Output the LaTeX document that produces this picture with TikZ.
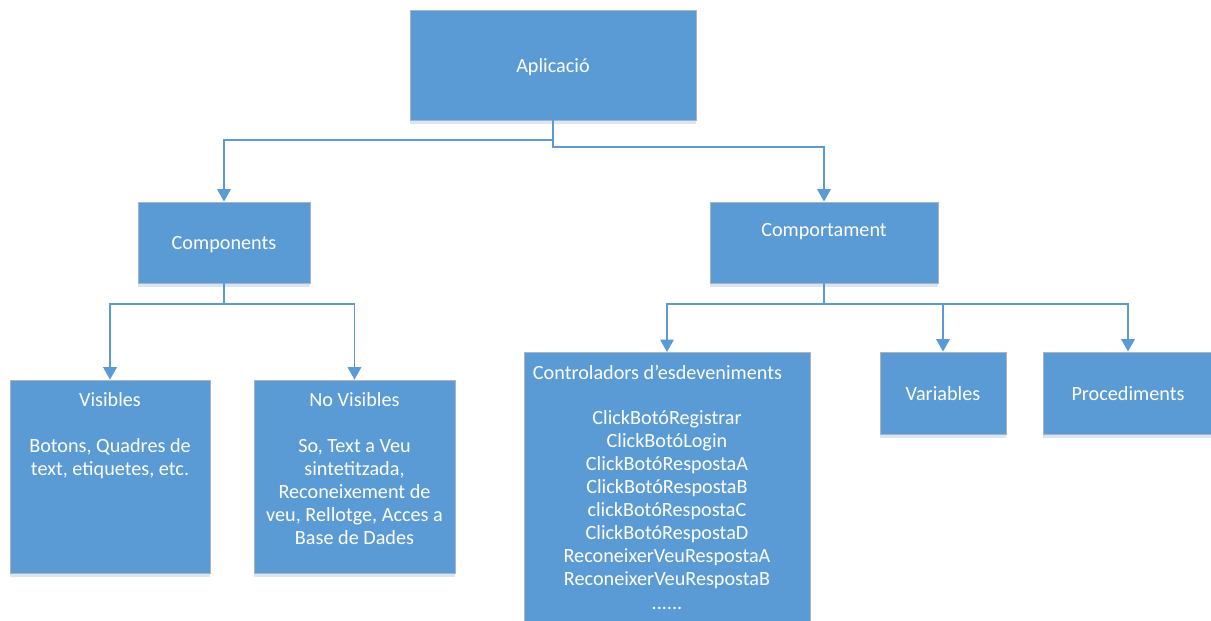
\documentclass[tikz,border=0pt]{standalone}
\usepackage{fontspec}
\setmainfont{Carlito}
\usepackage{tikz}
\usetikzlibrary{arrows.meta,
                positioning,
                shadows} % For the strip under each block
\definecolor{boxblue}{HTML}{5B9BD5}
\definecolor{edgegray}{HTML}{A9B5C2}
\definecolor{shadeblue}{HTML}{DAE6F3}

\begin{document}
\begin{tikzpicture}[x=0.02cm, y=-0.02cm]
    \tikzset
    {
        base/.style = {font = \fontsize{11.5pt}{13.1pt}\selectfont,
                       text = white,
                       inner sep = 0pt,
                       align = center},
        block/.style = {base,
                        rectangle,
                        text depth = 0pt,
                        draw = edgegray,
                        line width = 0.5pt,
                        fill = boxblue,
                        general shadow = {fill = shadeblue,
                                          shadow yshift = -0.8mm}},
        caption/.style = {base},
        link/.style = {draw = boxblue,
                       line width = 1.1pt,
                       -{Triangle[width = 2.7mm, length = 2.5mm]}}
    };
    \useasboundingbox (0,0) rectangle (1211,620);

    % Row #
    % 1
    \node[block, minimum width = 57.2mm, minimum height = 22mm] (app) at (553,65) {Aplicació};
    % 2
    \node[block, minimum width = 34.4mm, minimum height = 16.2mm] (components) at (224,242.5) {Components};
    \node[block, minimum width = 45.6mm, minimum height = 16.2mm] (comportament) at (824,242.5) {};
    \node[caption] (comportament text) at ([yshift=2.1mm] comportament.center) {Comportament};
    % 3
    \node[block, minimum width = 40mm, minimum height = 38.6mm] (visibles) at (110,476.5) {};
    \node[caption] (visibles text) [below=2.5mm of visibles.north]
        {Visibles\\[13.1pt]Botons, Quadres de\\text, etiquetes, etc.};
    \node[block, minimum width = 40.2mm, minimum height = 38.6mm] (no visibles) at (354.5,476.5) {};
    \node[caption] (no visibles text) [below=2.5mm of no visibles.north]
        {No Visibles\\[13.1pt]So, Text a Veu\\sintetitzada,\\Reconeixement de\\veu, Rellotge, Acces a\\Base de Dades};
    \node[block, minimum width = 57.2mm, minimum height = 55mm, anchor = north] (controladors) at (667,352) {};
    \node[caption] (controladors title) [below right=2.5mm and 1.8mm of controladors.north west]
        {Controladors d’esdeveniments};
    \node[caption] (controladors list) [below=11.7mm of controladors.north]
        {ClickBotóRegistrar\\ClickBotóLogin\\ClickBotóRespostaA\\ClickBotóRespostaB\\clickBotóRespostaC\\ClickBotóRespostaD\\ReconeixerVeuRespostaA\\ReconeixerVeuRespostaB\\......};
    \node[block, minimum width = 25.2mm, minimum height = 16.4mm] (variables) at (943,393) {Variables};
    \node[block, minimum width = 34mm, minimum height = 16.4mm] (procediments) at (1128,393) {Procediments};

    % Arrows
    \draw[link] (app.south) -- ++(0,20) -| (components.north);
    \draw[link] (app.south) -- ++(0,27) -| (comportament.north);
    %% Components branch
    \draw[link] (components.south) -- ++(0,21) -| (visibles.north);
    \draw[link] (components.south) -- ++(0,21) -| (no visibles.north);
    %% Comportament branch
    \draw[link] (comportament.south) -- ++(0,21) -| (controladors.north);
    \draw[link] (comportament.south) -- ++(0,21) -| (variables.north);
    \draw[link] (comportament.south) -- ++(0,21) -| (procediments.north);
\end{tikzpicture}
\end{document}
